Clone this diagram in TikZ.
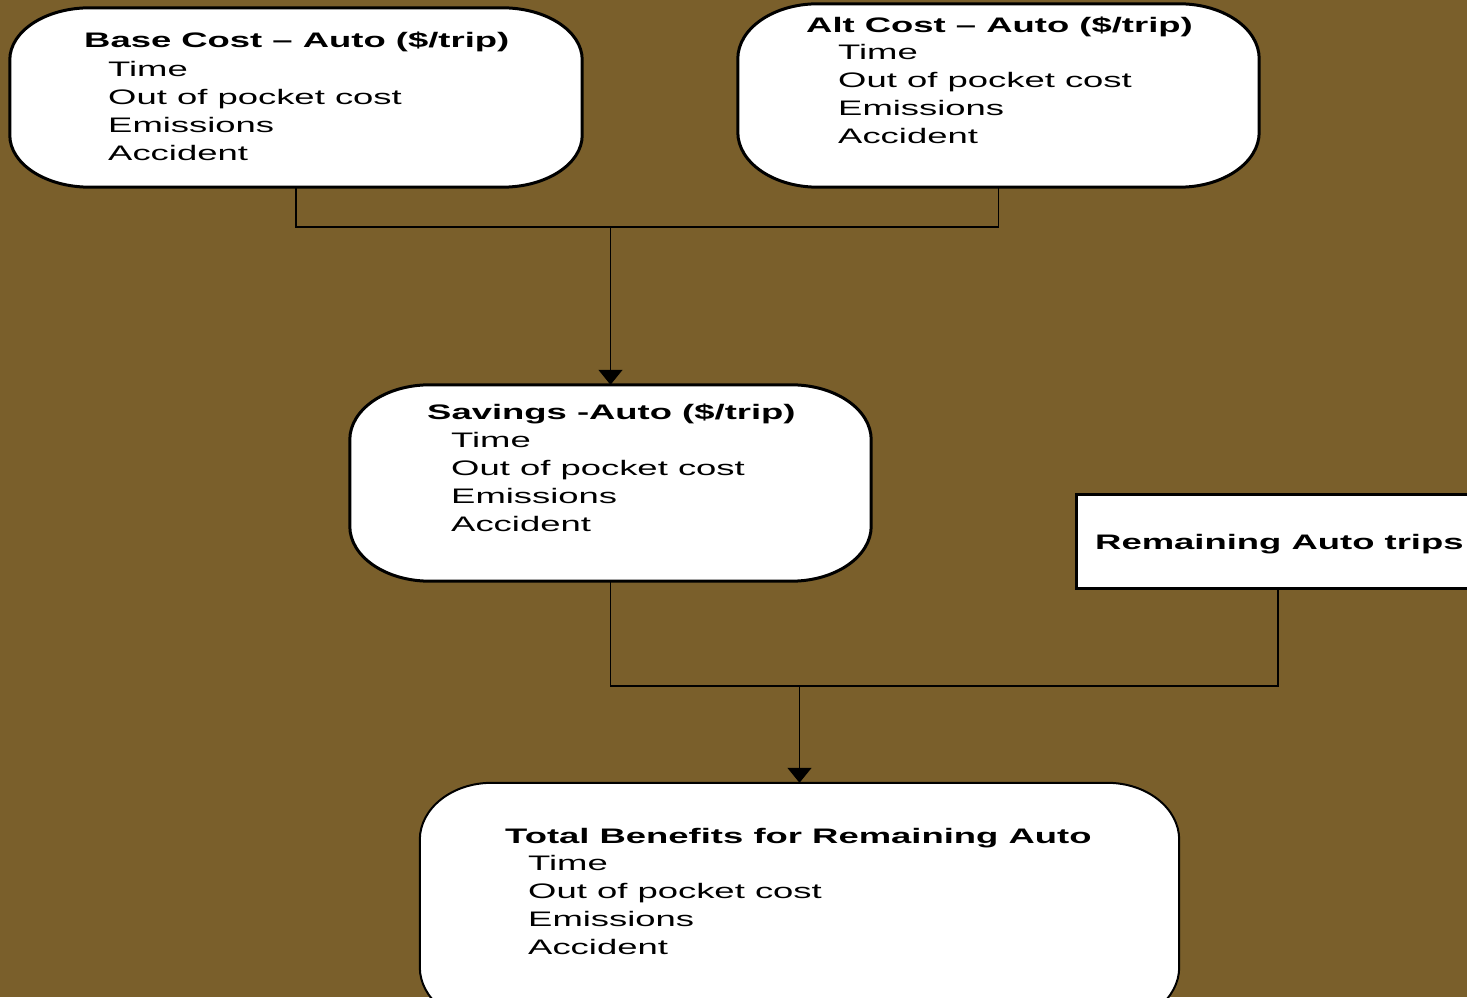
\documentclass[tikz,border=0pt]{standalone}
\usepackage{fontspec}
\setmainfont{Liberation Sans}[FakeStretch=1.735]
\usetikzlibrary{arrows.meta}
\definecolor{bgbrown}{RGB}{122,95,43}
\newcommand\bodylines{\vtop{\baselineskip=28pt\hbox{Time}\hbox{Out of pocket cost}\hbox{Emissions}\hbox{Accident}}}
% name, cx, cy, w, h, rx, ry, line width
\newcommand\roundbox[8]{%
  \node[inner sep=0pt, minimum width=#4pt, minimum height=#5pt] (#1) at (#2,#3) {};
  \draw[fill=white, line width=#8pt]
    ([xshift=#6pt]#1.north west) -- ([xshift=-#6pt]#1.north east)
    arc[start angle=90, end angle=0, x radius=#6pt, y radius=#7pt]
    -- ([yshift=#7pt]#1.south east)
    arc[start angle=0, end angle=-90, x radius=#6pt, y radius=#7pt]
    -- ([xshift=#6pt]#1.south west)
    arc[start angle=270, end angle=180, x radius=#6pt, y radius=#7pt]
    -- ([yshift=-#7pt]#1.north west)
    arc[start angle=180, end angle=90, x radius=#6pt, y radius=#7pt]
    -- cycle;}
\tikzset{
  txt/.style={inner sep=0pt, anchor=base west, font=\fontsize{21}{28}\selectfont},
  ttl/.style={txt, font=\fontsize{21}{28}\selectfont\bfseries},
  conn/.style={draw=black, line width=1.5pt},
  arr/.style={conn, -{Triangle[width=24pt,length=15pt]}},
}
\begin{document}
\begin{tikzpicture}[x=1pt,y=1pt]
\useasboundingbox (0,0) rectangle (1467,997);
\clip (0,0) rectangle (1467,997);
\fill[bgbrown] (0,0) rectangle (1467,997);

\roundbox{base}{296}{899.5}{572}{179}{80}{52}{3}
\roundbox{alt}{998.5}{901.5}{521}{183}{80}{55}{3}
\roundbox{sav}{610.5}{514}{521}{196}{80}{55}{3}
\roundbox{tot}{799.5}{93.5}{759}{241}{72}{57}{2}
\node[draw=black, fill=white, line width=3pt, inner sep=0pt,
      minimum width=404pt, minimum height=94pt] (rem) at (1278,455) {};

\node[ttl] (baset) at (84,949) {Base Cost – Auto (\$/trip)};
\node[txt] (baseb) at (108,920) {\bodylines};
\node[ttl] (altt) at (806,964) {Alt Cost – Auto (\$/trip)};
\node[txt] (altb) at (838,937) {\bodylines};
\node[ttl] (savt) at (427,577) {Savings -Auto (\$/trip)};
\node[txt] (savb) at (451,549) {\bodylines};
\node[ttl] (remt) at (1095,447) {Remaining Auto trips};
\node[ttl] (tott) at (505,154) {Total Benefits for Remaining Auto};
\node[txt] (totb) at (528,127) {\bodylines};

\coordinate (j1) at (610.5,770);
\coordinate (j2) at (799.5,311);
\draw[conn] (base.south) |- (j1) -| (alt.south);
\draw[arr] (j1) -- (sav.north);
\draw[conn] (sav.south) |- (j2) -| (rem.south);
\draw[arr] (j2) -- (tot.north);
\end{tikzpicture}
\end{document}
